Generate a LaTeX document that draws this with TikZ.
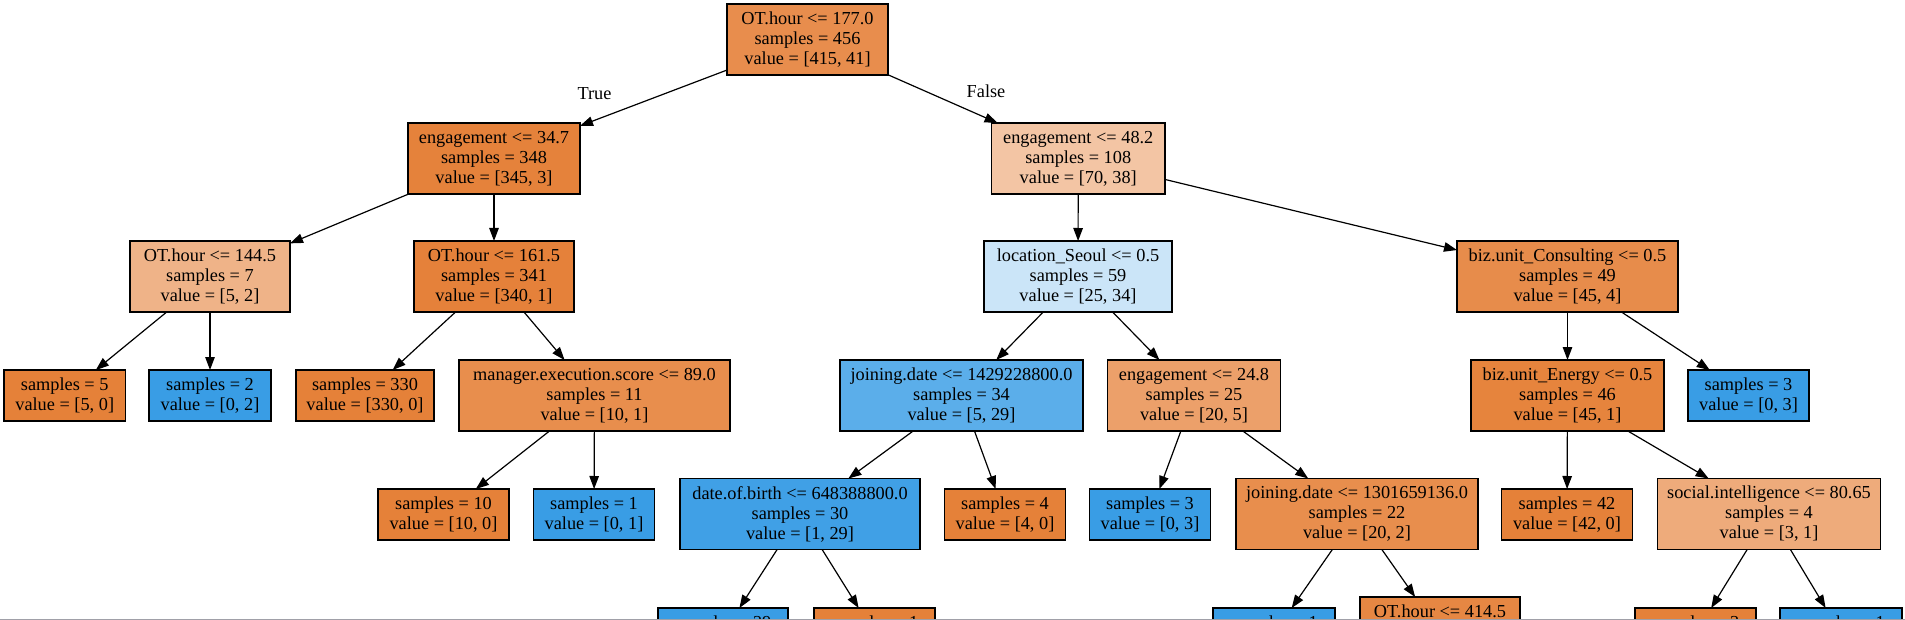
\documentclass[tikz,border=0pt]{standalone}
\usepackage{fontspec}
\setmainfont{Liberation Serif}
\usetikzlibrary{arrows.meta}
\definecolor{cA}{RGB}{232,141,77}
\definecolor{cB}{RGB}{229,130,59}
\definecolor{cC}{RGB}{243,197,164}
\definecolor{cD}{RGB}{239,179,136}
\definecolor{cE}{RGB}{229,129,58}
\definecolor{cF}{RGB}{203,229,248}
\definecolor{cG}{RGB}{231,140,75}
\definecolor{cOr}{RGB}{229,129,57}
\definecolor{cBl}{RGB}{57,157,229}
\definecolor{cH}{RGB}{232,142,77}
\definecolor{cI}{RGB}{91,174,234}
\definecolor{cJ}{RGB}{236,160,106}
\definecolor{cK}{RGB}{230,132,61}
\definecolor{cL}{RGB}{64,160,230}
\definecolor{cM}{RGB}{238,171,123}
\definecolor{cN}{RGB}{230,135,67}
\definecolor{edgegray}{RGB}{160,160,168}
\tikzset{
  tn/.style={draw=black, line width=1.2pt, rectangle, inner sep=0pt, outer sep=0pt,
    align=center, font=\fontsize{18.3}{20}\selectfont},
  three/.style={tn, minimum height=71pt},
  two/.style={tn, minimum height=51pt},
  arr/.style={-{Triangle[length=13pt,width=9.5pt]}, line width=1.2pt},
  lbl/.style={font=\fontsize{18.3}{20}\selectfont, inner sep=0pt}
}
\begin{document}
\begin{tikzpicture}[x=1pt,y=-1pt]
\useasboundingbox (0,0) rectangle (1905,620);
\clip (0,0) rectangle (1905,620);
\fill[white] (0,0) rectangle (1905,620);
% level 0
\node[three, fill=cA, minimum width=161pt] (root) at (807.5,39.5) {OT.hour <= 177.0\\samples = 456\\value = [415, 41]};
% level 1
\node[three, fill=cB, minimum width=172pt] (e347) at (494,158.5) {engagement <= 34.7\\samples = 348\\value = [345, 3]};
\node[three, fill=cC, minimum width=173.5pt] (e482) at (1078.25,158.5) {engagement <= 48.2\\samples = 108\\value = [70, 38]};
% level 2
\node[three, fill=cD, minimum width=160pt] (oth1445) at (210,276.5) {OT.hour <= 144.5\\samples = 7\\value = [5, 2]};
\node[three, fill=cE, minimum width=160pt] (oth1615) at (494,276.5) {OT.hour <= 161.5\\samples = 341\\value = [340, 1]};
\node[three, fill=cF, minimum width=188pt] (loc) at (1078,276.5) {location\_Seoul <= 0.5\\samples = 59\\value = [25, 34]};
\node[three, fill=cG, minimum width=221pt] (biz) at (1567.5,276.5) {biz.unit\_Consulting <= 0.5\\samples = 49\\value = [45, 4]};
% level 3
\node[two, fill=cOr, minimum width=121.5pt] (s5) at (64.75,395.5) {samples = 5\\value = [5, 0]};
\node[two, fill=cBl, minimum width=122pt] (s2) at (210,395.5) {samples = 2\\value = [0, 2]};
\node[two, fill=cOr, minimum width=138pt] (s330) at (365,395.5) {samples = 330\\value = [330, 0]};
\node[three, fill=cH, minimum width=271pt] (mes) at (594.5,395.5) {manager.execution.score <= 89.0\\samples = 11\\value = [10, 1]};
\node[three, fill=cI, minimum width=243pt] (jd1429) at (961.5,395.5) {joining.date <= 1429228800.0\\samples = 34\\value = [5, 29]};
\node[three, fill=cJ, minimum width=172.5pt] (e248) at (1194,395.5) {engagement <= 24.8\\samples = 25\\value = [20, 5]};
\node[three, fill=cK, minimum width=193pt] (bizE) at (1567.5,395.5) {biz.unit\_Energy <= 0.5\\samples = 46\\value = [45, 1]};
\node[two, fill=cBl, minimum width=121pt] (s3r) at (1748.5,395.5) {samples = 3\\value = [0, 3]};
% level 4
\node[two, fill=cOr, minimum width=131pt] (s10) at (443.5,514.5) {samples = 10\\value = [10, 0]};
\node[two, fill=cBl, minimum width=120.5pt] (s1) at (594,514.5) {samples = 1\\value = [0, 1]};
\node[three, fill=cL, minimum width=240pt] (dob) at (800,514) {date.of.birth <= 648388800.0\\samples = 30\\value = [1, 29]};
\node[two, fill=cOr, minimum width=121.6pt] (s4) at (1005,514.5) {samples = 4\\value = [4, 0]};
\node[two, fill=cBl, minimum width=121pt] (s3m) at (1150,514.5) {samples = 3\\value = [0, 3]};
\node[three, fill=cH, minimum width=242pt] (jd1301) at (1357,514) {joining.date <= 1301659136.0\\samples = 22\\value = [20, 2]};
\node[two, fill=cOr, minimum width=130.6pt] (s42) at (1567,514.5) {samples = 42\\value = [42, 0]};
\node[three, fill=cM, minimum width=223.5pt] (si) at (1769,514) {social.intelligence <= 80.65\\samples = 4\\value = [3, 1]};
% level 5 (cut off by the lower edge)
\node[two, fill=cBl, minimum width=130pt] (s29) at (723,633.5) {samples = 29\\value = [0, 29]};
\node[two, fill=cOr, minimum width=121pt] (s1b) at (874.5,633.5) {samples = 1\\value = [1, 0]};
\node[two, fill=cBl, minimum width=122pt] (s1c) at (1274,633.5) {samples = 1\\value = [0, 1]};
\node[three, fill=cN, minimum width=160pt] (oth4145) at (1440,632.5) {OT.hour <= 414.5\\samples = 21\\value = [20, 1]};
\node[two, fill=cOr, minimum width=121pt] (s3b) at (1695.5,633.5) {samples = 3\\value = [3, 0]};
\node[two, fill=cBl, minimum width=122pt] (s1d) at (1841,633.5) {samples = 1\\value = [0, 1]};
% edge labels
\node[lbl] (ltrue) at (594.5,93.5) {True};
\node[lbl] (lfalse) at (986,91) {False};
% edges
\draw[arr] (root) -- (e347);
\draw[arr] (root) -- (e482);
\draw[arr] (e347) -- (oth1445);
\draw[arr] (e347) -- (oth1615);
\draw[arr] (e482) -- (loc);
\draw[arr] (e482) -- (biz);
\draw[arr] (oth1445) -- (s5);
\draw[arr] (oth1445) -- (s2);
\draw[arr] (oth1615) -- (s330);
\draw[arr] (oth1615) -- (mes);
\draw[arr] (loc) -- (jd1429);
\draw[arr] (loc) -- (e248);
\draw[arr] (biz) -- (bizE);
\draw[arr] (biz) -- (s3r);
\draw[arr] (mes) -- (s10);
\draw[arr] (mes) -- (s1);
\draw[arr] (jd1429) -- (dob);
\draw[arr] (jd1429) -- (s4);
\draw[arr] (e248) -- (s3m);
\draw[arr] (e248) -- (jd1301);
\draw[arr] (bizE) -- (s42);
\draw[arr] (bizE) -- (si);
\draw[arr] (dob) -- (s29);
\draw[arr] (dob) -- (s1b);
\draw[arr] (jd1301) -- (s1c);
\draw[arr] (jd1301) -- (oth4145);
\draw[arr] (si) -- (s3b);
\draw[arr] (si) -- (s1d);
% lower edge of the screenshot
\coordinate (gl) at (0,619.3);
\coordinate (gr) at (1905,619.3);
\draw[edgegray, line width=1.4pt] (gl) -- (gr);
\end{tikzpicture}
\end{document}
